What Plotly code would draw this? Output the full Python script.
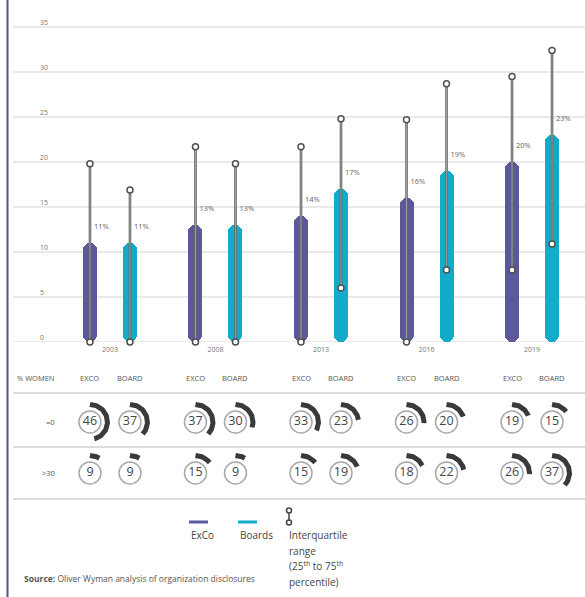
import numpy as np
import plotly.graph_objects as go

# ---- data -------------------------------------------------------------
years = ["2003", "2008", "2013", "2016", "2019"]
exco_pct = [11, 13, 14, 16, 20]
board_pct = [11, 13, 17, 19, 23]

# interquartile ranges (25th / 75th percentile)
exco_q1 = [0, 0, 0, 0, 8]
exco_q3 = [19.8, 21.7, 21.7, 24.7, 29.5]
board_q1 = [0, 0, 6, 8, 10.9]
board_q3 = [16.9, 19.8, 24.8, 28.7, 32.4]

# number of organisations with 0% women / more than 30% women
exco_zero = [46, 37, 33, 26, 19]
board_zero = [37, 30, 23, 20, 15]
exco_over30 = [9, 15, 15, 18, 26]
board_over30 = [9, 9, 19, 22, 37]

row_labels = ["=0", ">30"]
y_ticks = [0, 5, 10, 15, 20, 25, 30, 35]

# ---- styling ----------------------------------------------------------
W, H = 585, 597
FONT = "Open Sans"
C_EXCO = "#5b589c"
C_BOARD = "#12abc9"
C_WHISK = "#666666"
C_GRID = "#e2e2e2"
C_TEXT = "#666666"


def px(x):
    return x / W


def py(y):
    return 1 - y / H


X_LEFT, X_RIGHT = 13, 585          # plotting area, pixels
X_RANGE = [-0.919, 4.502]
UNIT = (X_RIGHT - X_LEFT) / (X_RANGE[1] - X_RANGE[0])   # pixels per group step
SHIFT = 20 / UNIT                   # ExCo / Board offset from group centre
BAR_PX = 14
BAR_W = BAR_PX / UNIT

Y_ZERO_PX, Y_TOP_PX, Y_MAX = 342, 0, 38
Y_UNIT = (Y_ZERO_PX - Y_TOP_PX) / Y_MAX                # pixels per percentage point
CAP = (BAR_PX / 2) / Y_UNIT                             # rounded cap height in data units

idx = np.arange(len(years))
x_exco = idx - SHIFT
x_board = idx + SHIFT

fig = go.Figure()

# ---- bars, rounded at both ends:
#      one piece rounded on top, one piece rounded at the bottom, overlapping
for xs, vals, col in [(x_exco, exco_pct, C_EXCO), (x_board, board_pct, C_BOARD)]:
    vals = np.array(vals, dtype=float)
    fig.add_bar(x=xs, y=vals - CAP, base=[CAP] * len(vals), width=BAR_W,
                marker=dict(color=col, cornerradius="50%", line=dict(width=0)),
                hoverinfo="skip")
    fig.add_bar(x=xs, y=-(vals - CAP), base=vals - CAP, width=BAR_W,
                marker=dict(color=col, cornerradius="50%", line=dict(width=0)),
                hoverinfo="skip")

# ---- interquartile whiskers ------------------------------------------
wx, wy = [], []
for xs, q1, q3 in [(x_exco, exco_q1, exco_q3), (x_board, board_q1, board_q3)]:
    for x, a, b in zip(xs, q1, q3):
        wx += [x, x, None]
        wy += [a, b, None]
fig.add_scatter(x=wx, y=wy, mode="lines", line=dict(color=C_WHISK, width=2.6), hoverinfo="skip")
fig.add_scatter(x=wx, y=wy, mode="lines", line=dict(color="#c4c4c4", width=0.6), hoverinfo="skip")
ends_x = [v for v in wx if v is not None]
ends_y = [v for v in wy if v is not None]
fig.add_scatter(x=ends_x, y=ends_y, mode="markers",
                marker=dict(symbol="circle", size=6, color="white",
                            line=dict(color="#505050", width=1.5)),
                hoverinfo="skip", cliponaxis=False)

# ---- value labels -----------------------------------------------------
for xs, vals in [(x_exco, exco_pct), (x_board, board_pct)]:
    fig.add_scatter(x=xs + 4 / UNIT, y=np.array(vals) + 1.8, mode="text",
                    text=[f"{v}%" for v in vals], textposition="middle right",
                    textfont=dict(family=FONT, size=7.5, color=C_TEXT), hoverinfo="skip")

# ---- donut table (xaxis2 / yaxis2; y measured in pixels) --------------
ROW_Y = [422, 473]
R_CIRC = 22
R_ARC = 17.5
table = [(x_exco, exco_zero, ROW_Y[0]), (x_board, board_zero, ROW_Y[0]),
         (x_exco, exco_over30, ROW_Y[1]), (x_board, board_over30, ROW_Y[1])]
for xs, vals, yrow in table:
    for x, v in zip(xs, vals):
        th = np.linspace(0, 2 * np.pi * v / 100, 80)
        fig.add_scatter(x=x + R_ARC * np.sin(th) / UNIT, y=yrow - R_ARC * np.cos(th),
                        mode="lines", line=dict(color="#3a3a3a", width=5),
                        xaxis="x2", yaxis="y2", hoverinfo="skip")
    fig.add_scatter(x=xs, y=[yrow] * len(xs), mode="markers+text",
                    text=[str(v) for v in vals], textposition="middle center",
                    textfont=dict(family=FONT, size=12.5, color="#444444"),
                    marker=dict(symbol="circle", size=R_CIRC, color="white",
                                line=dict(color="#a8a8a8", width=1.5)),
                    xaxis="x2", yaxis="y2", hoverinfo="skip")

# ---- axes ---------------------------------------------------------------
x_dom = [px(X_LEFT), px(X_RIGHT)]
fig.update_layout(
    width=W, height=H, margin=dict(l=0, r=0, t=0, b=0),
    paper_bgcolor="white", plot_bgcolor="white", showlegend=False,
    barmode="overlay", bargap=0,
    font=dict(family=FONT, color=C_TEXT),
    xaxis=dict(domain=x_dom, range=X_RANGE, tickvals=list(idx), ticktext=years,
               showgrid=False, zeroline=False, showline=False, ticks="",
               tickfont=dict(size=7, color="#777777"), ticklabelstandoff=2),
    yaxis=dict(domain=[py(Y_ZERO_PX), py(Y_TOP_PX)], range=[0, Y_MAX],
               tickvals=y_ticks, showgrid=False, zeroline=False, showline=False, ticks="",
               ticklabelposition="inside top", ticklabelstandoff=24,
               tickfont=dict(size=7, color="#777777")),
    xaxis2=dict(domain=x_dom, range=X_RANGE, anchor="y2", visible=False),
    yaxis2=dict(domain=[py(510), py(360)], range=[510, 360], anchor="x2",
                tickvals=[393, 447, 499], showticklabels=False, showgrid=True,
                gridcolor="#dcdcdc", gridwidth=2, zeroline=False, showline=False, ticks=""),
)

# horizontal grid lines of the bar chart, drawn beneath the bars
shapes = [dict(type="line", xref="paper", yref="y", x0=px(X_LEFT), x1=1, y0=t, y1=t,
               layer="below", line=dict(color=C_GRID, width=1.6)) for t in y_ticks]

# ---- table header and row labels ---------------------------------------
ann = []
ann.append(dict(x=px(15), y=py(378), xref="paper", yref="paper", text="% WOMEN",
                xanchor="left", yanchor="middle", showarrow=False,
                font=dict(size=7.5, color="#555555")))
for xe, xb in zip(x_exco, x_board):
    for x, t in [(xe, "EXCO"), (xb, "BOARD")]:
        ann.append(dict(x=x, y=378, xref="x2", yref="y2", text=t, showarrow=False,
                        xanchor="center", yanchor="middle",
                        font=dict(size=7.5, color="#555555")))
for lab, yrow in zip(row_labels, ROW_Y):
    ann.append(dict(x=px(57), y=py(yrow), xref="paper", yref="paper", text=lab,
                    xanchor="right", yanchor="middle", showarrow=False,
                    font=dict(size=7.5, color="#555555")))

# ---- frame line and legend ------------------------------------------------
shapes += [
    dict(type="line", xref="paper", yref="paper", x0=px(7.5), x1=px(7.5), y0=0, y1=1,
         line=dict(color="#4a5a78", width=2)),
    dict(type="line", xref="paper", yref="paper", x0=px(189), x1=px(208), y0=py(522), y1=py(522),
         line=dict(color=C_EXCO, width=3)),
    dict(type="line", xref="paper", yref="paper", x0=px(238), x1=px(257), y0=py(522), y1=py(522),
         line=dict(color=C_BOARD, width=3)),
    dict(type="line", xref="paper", yref="paper", x0=px(289), x1=px(289), y0=py(511), y1=py(523),
         line=dict(color="#444444", width=1.5)),
    dict(type="circle", xref="paper", yref="paper", x0=px(286.5), x1=px(291.5), y0=py(508),
         y1=py(513), line=dict(color="#444444", width=1.5), fillcolor="white"),
    dict(type="circle", xref="paper", yref="paper", x0=px(286.5), x1=px(291.5), y0=py(520),
         y1=py(525), line=dict(color="#444444", width=1.5), fillcolor="white"),
]
legend_font = dict(size=10, color="#444444", family=FONT)
ann.append(dict(x=px(189), y=py(535), xref="paper", yref="paper", text="ExCo",
                xanchor="left", yanchor="middle", showarrow=False, font=legend_font))
ann.append(dict(x=px(238), y=py(535), xref="paper", yref="paper", text="Boards",
                xanchor="left", yanchor="middle", showarrow=False, font=legend_font))
iqr_lines = ["Interquartile", "range", "(25<sup>th</sup> to 75<sup>th</sup>", "percentile)"]
for i, t in enumerate(iqr_lines):
    ann.append(dict(x=px(287), y=py(535 + 15.5 * i), xref="paper", yref="paper", text=t,
                    xanchor="left", yanchor="middle", showarrow=False, font=legend_font))

ann.append(dict(x=px(22), y=py(578), xref="paper", yref="paper",
                text="<b>Source:</b> Oliver Wyman analysis of organization disclosures",
                xanchor="left", yanchor="middle", showarrow=False,
                font=dict(size=8.5, color="#555555", family=FONT)))

fig.update_layout(annotations=ann, shapes=shapes)
fig.write_html("out.html")
